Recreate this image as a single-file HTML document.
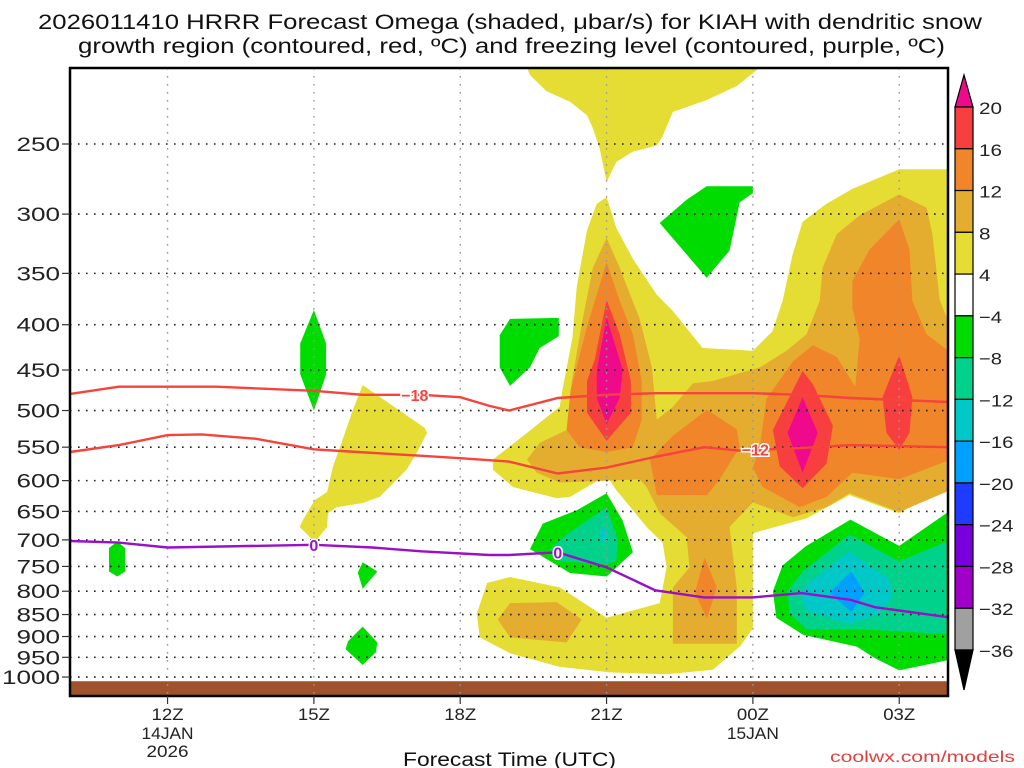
<!DOCTYPE html>
<html><head><meta charset="utf-8">
<style>
html,body{margin:0;padding:0;background:#fff;}
svg{display:block;font-family:"Liberation Sans",sans-serif;}
</style></head>
<body>
<svg id="chart" width="1024" height="768" viewBox="0 0 1024 768" xmlns="http://www.w3.org/2000/svg">
<text x="38" y="29" font-size="21" textLength="944" lengthAdjust="spacingAndGlyphs" fill="#111">2026011410 HRRR Forecast Omega (shaded, μbar/s) for KIAH with dendritic snow</text>
<text x="78" y="53" font-size="21" textLength="867" lengthAdjust="spacingAndGlyphs" fill="#111">growth region (contoured, red, ºC) and freezing level (contoured, purple, ºC)</text>
<defs><clipPath id="plotclip"><rect x="70" y="68" width="878" height="628"/></clipPath></defs>
<g id="fills" clip-path="url(#plotclip)"></g>
<g id="grid"></g>
<g id="lines" clip-path="url(#plotclip)"></g>
<g id="axes"></g>
<g id="cbar"></g>
<text x="403" y="766" font-size="19" textLength="213" lengthAdjust="spacingAndGlyphs" fill="#111">Forecast Time (UTC)</text>
<text x="830" y="762" font-size="16" textLength="185" lengthAdjust="spacingAndGlyphs" fill="#e04040">coolwx.com/models</text>
</svg>
<script>
const NS="http://www.w3.org/2000/svg";
// axis extents
const hourMin=10, hourMax=28;
const pressureTicks=[250,300,350,400,450,500,550,600,650,700,750,800,850,900,950,1000];
const hourTicks=[12,15,18,21,24,27];
const hourTickLabels=["12Z","15Z","18Z","21Z","00Z","03Z"];
// shaded omega regions: [hour, pressure] outlines, drawn in order
const yellowColor="#e5dd33", goldColor="#e5ad30", orangeColor="#f0852a", redColor="#f83f3f", magentaColor="#ee0a8a";
const greenColor="#00dc00", tealColor="#00d28c", cyanColor="#00c8c8", blueColor="#00a0ff";
const yellowMain=[[21,287],[21.2,311],[21.54,337],[22.03,370],[22.36,386],[22.97,425],[24,428],[24.4,407],[24.61,376],[24.81,334],[25.02,306],[25.51,292],[26.04,281],[27,267],[28.2,267],[28.2,599],[27,653],[25.98,623],[25.1,662],[24,688],[24,881],[23.73,924],[23.18,981],[22.23,993],[21.07,988],[20.04,974],[19.02,940],[18.4,902],[18.34,848],[18.55,783],[19.02,771],[20.04,792],[21,857],[22.09,825],[22.23,752],[22.15,705],[21.82,677],[21.54,648],[21.2,615],[21,592],[20.25,626],[19.98,628],[19.08,610],[18.67,583],[18.67,568],[19.37,530],[20.04,495],[20.1,472],[20.3,414],[20.39,362],[20.6,313],[20.8,292]];
const yellowTop=[[19.37,195],[19.37,205],[19.43,209],[19.77,218],[20.25,224],[20.6,232],[20.72,240],[20.86,253],[21,276],[21.2,262],[21.54,255],[22.03,251],[22.15,245],[22.36,230],[23.05,223],[23.67,215],[24.14,205],[24.3,195]];
const yellowLeft=[[16,468],[17.27,523],[17.32,530],[17.11,558],[16.9,583],[16.35,626],[16,636],[15.47,643],[15.29,653],[15.27,677],[15.02,704],[14.71,677],[14.77,665],[15.02,631],[15.27,618],[15.39,579],[15.59,539],[15.8,499]];
const goldMain=[[21,319],[21.27,345],[21.68,394],[21.93,447],[22.03,512],[22.36,495],[22.77,466],[23.18,463],[24.14,447],[24.69,428],[25.1,410],[25.37,376],[25.43,345],[25.72,316],[26.19,301],[27,285],[27.56,295],[27.68,316],[27.83,375],[28.2,422],[28.2,610],[27,651],[25.98,620],[25.51,643],[24.82,660],[24,635],[23.52,677],[23.67,792],[23.67,917],[22.36,917],[22.36,792],[22.7,752],[22.64,695],[22.09,653],[21.82,610],[21.68,598],[20.04,603],[19.57,588],[19.37,568],[19.63,544],[20.18,526],[20.29,463],[20.51,394],[20.72,345]];
const goldLow=[[19.02,825],[19.98,823],[20.49,861],[20.18,914],[19.02,902],[18.77,861]];
const orange21=[[21,340],[20.6,402],[20.26,475],[20.18,526],[20.45,550],[21,557],[21.54,550],[21.72,512],[21.72,463],[21.54,410],[21.27,376]];
const orangeMid=[[23.06,499],[23.67,525],[23.73,550],[23.32,598],[23.06,623],[22.03,623],[21.89,568],[22.36,534]];
const orangeLow=[[23.01,733],[23.26,792],[23.06,859],[22.81,803]];
const orangeRight=[[27,304],[27.21,329],[27.27,376],[27.56,410],[28.2,436],[28.2,564],[27,598],[26.04,588],[25.51,626],[24.96,643],[24.2,610],[24,580],[24.14,550],[24.28,485],[24.82,440],[25.23,422],[25.72,435],[26.1,470],[26.19,415],[26.04,383],[26.04,357],[26.39,329]];
const red21=[[21,375],[20.76,438],[20.6,463],[20.6,503],[21,541],[21.5,503],[21.5,463],[21.27,410]];
const red01=[[25.02,451],[24.41,526],[24.55,578],[25.02,612],[25.51,574],[25.64,520],[25.23,467]];
const red03=[[27,433],[26.66,483],[26.74,530],[27,554],[27.21,530],[27.27,483]];
const magenta21=[[21,392],[20.8,450],[20.8,484],[21,518],[21.27,484],[21.33,450]];
const magenta01=[[25.02,483],[24.71,530],[25.02,588],[25.33,530]];
const greenSpindle=[[15,385],[15.25,420],[15.25,455],[15,500],[14.72,455],[14.72,420]];
const greenSmall11=[[10.97,703],[11.13,715],[11.13,760],[10.97,770],[10.8,760],[10.8,715]];
const greenSmall16a=[[16,742],[16.3,760],[16,795],[15.9,762]];
const greenSmall16b=[[16,877],[16.3,914],[16.27,938],[16,969],[15.65,930],[15.7,911]];
const greenUp20=[[19.02,394],[20.02,393],[20.02,412],[19.63,425],[19.43,447],[19.02,469],[18.81,447],[18.81,411]];
const greenUp23=[[23.05,279],[24,279],[24,284],[23.73,291],[23.52,330],[23.05,354],[22.09,307],[22.64,289]];
const greenLow20=[[21,620],[21.33,666],[21.54,723],[21,770],[20.25,763],[19.43,717],[19.69,671],[20.39,648]];
const tealLow20=[[21,643],[21.23,700],[21.2,740],[21,746],[20.04,740],[19.84,717],[20.18,690]];
const cyanLow20=[[20.93,673],[21.02,690],[20.93,708],[20.85,690]];
const greenRight=[[26,664],[27,711],[28.2,640],[28.2,952],[27,983],[26.5,952],[26.13,924],[25.03,896],[24.48,857],[24.41,800],[24.61,748],[25.08,712]];
const tealRight=[[25.98,690],[27,740],[28.2,695],[28.2,896],[26.19,883],[25.1,883],[24.75,848],[24.71,800],[25.02,760]];
const cyanRight=[[25.98,722],[26.8,775],[26.86,814],[26.54,851],[25.98,870],[25.1,842],[24.96,804],[25.16,780]];
const blueRight=[[26.02,760],[26.29,803],[26.02,845],[25.57,803]];
// contour lines
const dgzWarmHours=[10,11,12,12.7,13.8,15,15.9,17.3,18,19,20,21,22,23,23.7,25,26,28];
const dgzWarmP=[557,547,533,532,538,553,557,563,566,571,589,580,564,550,555,551,547,550];
const dgzColdHours=[10,11,13,15,16,17.2,18,18.6,19,20,21,22,24,25,26,28];
const dgzColdP=[479,470,470,475,480,480,483,494,500,484,480,478,478,480,484,489];
const frzHours=[10,11,12,15,16.2,17.2,18.6,19,20,21,22,23,24,25,26,26.5,28];
const frzP=[702,705,714,709,714,721,728,728,723,752,798,813,813,804,818,834,856];
// colorbar
const cbarLabels=["20","16","12","8","4","−4","−8","−12","−16","−20","−24","−28","−32","−36"];
const cbarColors=["#f83f3f","#f0852a","#e5ad30","#e5dd33","#ffffff","#00dc00","#00d28c","#00c8c8","#00a0ff","#1e3cff","#7800dc","#a000c8","#a0a0a0"];

const X=h=>70+(h-hourMin)*(878/(hourMax-hourMin));
const Y=p=>144+384.5*(Math.log(p)-Math.log(250));
function mk(tag,attrs,parent){const e=document.createElementNS(NS,tag);for(const k in attrs)e.setAttribute(k,attrs[k]);parent.appendChild(e);return e;}
const fills=document.getElementById('fills');
function region(pts,color,name){
  const el=mk('polygon',{points:pts.map(q=>X(q[0]).toFixed(1)+","+Y(q[1]).toFixed(1)).join(" "),fill:color},fills);
  
  
}
region(yellowTop,yellowColor,'omega-4to8-upper');
region(yellowMain,yellowColor,'omega-4to8-main');
region(yellowLeft,yellowColor,'omega-4to8-left');
region(goldMain,goldColor,'omega-8to12-main');
region(goldLow,goldColor,'omega-8to12-low');
region(orange21,orangeColor,'omega-12to16-21z');
region(orangeMid,orangeColor,'omega-12to16-mid');
region(orangeLow,orangeColor,'omega-12to16-low');
region(orangeRight,orangeColor,'omega-12to16-right');
region(red21,redColor,'omega-16to20-21z');
region(red01,redColor,'omega-16to20-01z');
region(red03,redColor,'omega-16to20-03z');
region(magenta21,magentaColor,'omega-over20-21z');
region(magenta01,magentaColor,'omega-over20-01z');
region(greenSpindle,greenColor,'omega-neg4-15z');
region(greenSmall11,greenColor,'omega-neg4-11z');
region(greenSmall16a,greenColor,'omega-neg4-16z-a');
region(greenSmall16b,greenColor,'omega-neg4-16z-b');
region(greenUp20,greenColor,'omega-neg4-20z-upper');
region(greenUp23,greenColor,'omega-neg4-23z-upper');
region(greenLow20,greenColor,'omega-neg4-20z-lower');
region(tealLow20,tealColor,'omega-neg8-20z');
region(cyanLow20,cyanColor,'omega-neg12-20z');
region(greenRight,greenColor,'omega-neg4-right');
region(tealRight,tealColor,'omega-neg8-right');
region(cyanRight,cyanColor,'omega-neg12-right');
region(blueRight,blueColor,'omega-neg16-right');
// ground
const ground=mk('rect',{x:70,y:Y(1011),width:878,height:696-Y(1011),fill:"#a0522d"},fills);



// grid
const grid=document.getElementById('grid');
pressureTicks.forEach(p=>{
  const l=mk('line',{x1:70,x2:948,y1:Y(p),y2:Y(p),stroke:"#222","stroke-width":1.6,"stroke-dasharray":"1.6 6.4"},grid);
  
  
});
hourTicks.forEach(h=>{
  const l=mk('line',{x1:X(h),x2:X(h),y1:68,y2:696,stroke:"#999","stroke-width":1.4,"stroke-dasharray":"1.6 6.4"},grid);
  
  
});

// lines
const lines=document.getElementById('lines');
function contour(hs,ps,color,name){
  const el=mk('polyline',{points:hs.map((h,i)=>X(h).toFixed(1)+","+Y(ps[i]).toFixed(1)).join(" "),fill:"none",stroke:color,"stroke-width":2.4},lines);
  
  
}
contour(dgzColdHours,dgzColdP,"#f4443c","dgz-minus18-line");
contour(dgzWarmHours,dgzWarmP,"#f4443c","dgz-minus12-line");
contour(frzHours,frzP,"#9a10c8","freezing-level-line");
function clabel(h,p,txt,color,name){
  const t=mk('text',{x:X(h),y:Y(p)+6,"text-anchor":"middle","font-size":16,"font-weight":"bold",fill:color,stroke:"#fff","stroke-width":3,"paint-order":"stroke"},lines);
  t.textContent=txt;
  
  
}
clabel(17.07,480,"−18","#f4443c","label-minus18");
clabel(24.05,553,"−12","#f4443c","label-minus12");
clabel(15,709,"0","#9a10c8","label-freezing-0-a");
clabel(20,723,"0","#9a10c8","label-freezing-0-b");

// axes
const axes=document.getElementById('axes');
const frame=mk('rect',{x:70,y:68,width:878,height:628,fill:"none",stroke:"#000","stroke-width":2.5},axes);


pressureTicks.forEach(p=>{
  mk('line',{x1:62,x2:70,y1:Y(p),y2:Y(p),stroke:"#333","stroke-width":1.2},axes);
  const s=String(p);
  const t=mk('text',{x:60-s.length*14.5,y:Y(p)+7,"font-size":19,textLength:s.length*14.5,lengthAdjust:"spacingAndGlyphs",fill:"#222"},axes);
  t.textContent=s;
  
  
});
hourTicks.forEach((h,i)=>{
  mk('line',{x1:X(h),x2:X(h),y1:696,y2:704,stroke:"#333","stroke-width":1.2},axes);
  const t=mk('text',{x:X(h)-16,y:720,"font-size":17,textLength:32,lengthAdjust:"spacingAndGlyphs",fill:"#222"},axes);
  t.textContent=hourTickLabels[i];
  
  
});
[["14JAN",12,739,52],["2026",12,757,42],["15JAN",24,739,52]].forEach(d=>{
  const t=mk('text',{x:X(d[1])-d[3]/2,y:d[2],"font-size":17,textLength:d[3],lengthAdjust:"spacingAndGlyphs",fill:"#222"},axes);
  t.textContent=d[0];
  
  
});

// colorbar
const cb=document.getElementById('cbar');
const cbTop=107,cbBot=650,cbX=955,cbW=18;
const bh=(cbBot-cbTop)/cbarColors.length;
const tri1=mk('polygon',{points:`${cbX},${cbTop} ${cbX+cbW},${cbTop} ${cbX+cbW/2},75`,fill:"#ee0a8a",stroke:"#000","stroke-width":1.2},cb);


cbarColors.forEach((c,i)=>{
  const r=mk('rect',{x:cbX,y:cbTop+i*bh,width:cbW,height:bh,fill:c,stroke:"#000","stroke-width":1.2},cb);
  
  
});
const tri2=mk('polygon',{points:`${cbX},${cbBot} ${cbX+cbW},${cbBot} ${cbX+cbW/2},690`,fill:"#000",stroke:"#000","stroke-width":1.2},cb);


cbarLabels.forEach((s,i)=>{
  const t=mk('text',{x:979,y:cbTop+i*bh+7,"font-size":17,textLength:s.length*11.5,lengthAdjust:"spacingAndGlyphs",fill:"#222"},cb);
  t.textContent=s;
  
  
});
</script>
</body></html>
